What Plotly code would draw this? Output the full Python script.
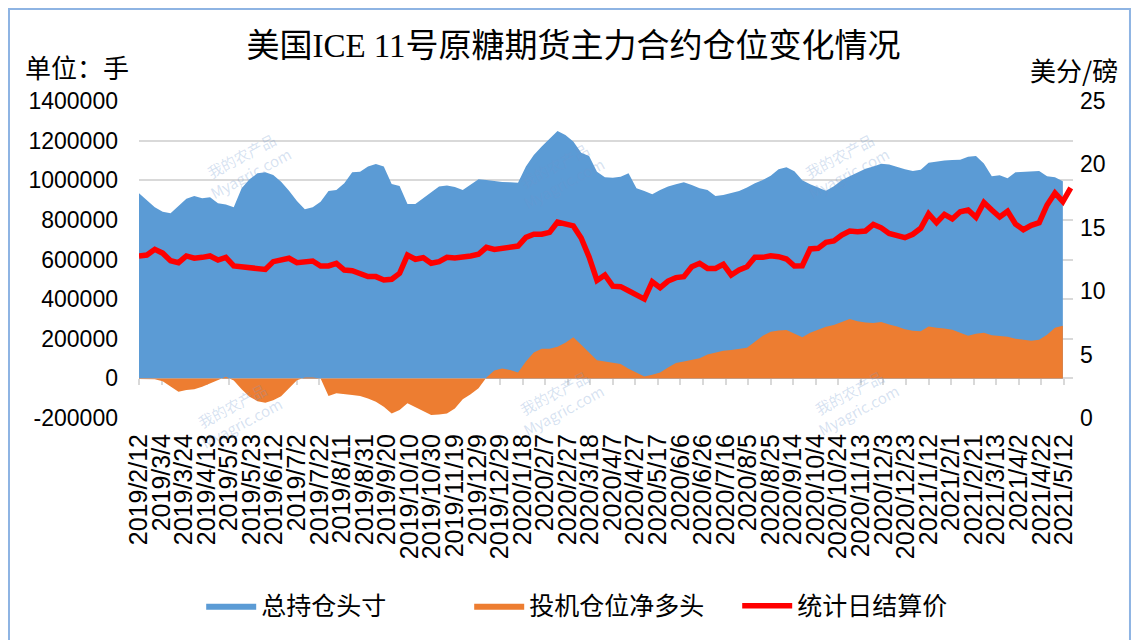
import pandas as pd
import plotly.graph_objects as go

# ---------------- data ----------------
start_date = "2019-02-12"   # weekly observations (Tuesdays)

total_oi = [
    935000, 900000, 864000, 841000, 833000, 870000, 907000, 920000, 909000, 914000,
    884000, 877000, 864000, 960000, 1005000, 1035000, 1040000, 1027000, 993000, 947000,
    895000, 853000, 864000, 892000, 946000, 951000, 985000, 1040000, 1043000, 1069000,
    1082000, 1069000, 981000, 971000, 880000, 880000, 909000, 937000, 968000, 973000,
    966000, 951000, 976000, 1005000, 1001000, 996000, 991000, 990000, 988000, 1069000,
    1128000, 1170000, 1212000, 1249000, 1229000, 1195000, 1139000, 1123000, 1043000, 1015000,
    1012000, 1018000, 1035000, 960000, 946000, 929000, 951000, 968000, 980000, 990000,
    976000, 960000, 951000, 920000, 926000, 937000, 946000, 963000, 985000, 1001000,
    1023000, 1055000, 1065000, 1045000, 1000000, 980000, 965000, 947000, 970000, 1000000,
    1020000, 1037000, 1058000, 1070000, 1083000, 1080000, 1068000, 1055000, 1047000, 1053000,
    1088000, 1095000, 1100000, 1102000, 1103000, 1118000, 1122000, 1085000, 1020000, 1025000,
    1010000, 1040000, 1042000, 1044000, 1047000, 1020000, 1015000, 995000,
]

spec_net_long = [
    -3000, -3000, -5000, -15000, -42000, -67000, -59000, -55000, -42000, -25000,
    -8000, 8000, -11000, -55000, -93000, -115000, -123000, -110000, -90000, -50000,
    -10000, 5000, 5000, 0, -89000, -75000, -78000, -84000, -89000, -101000,
    -118000, -143000, -177000, -160000, -126000, -146000, -168000, -185000, -182000, -177000,
    -152000, -105000, -80000, -50000, 5000, 40000, 50000, 42000, 30000, 85000,
    130000, 150000, 150000, 160000, 180000, 207000, 170000, 130000, 92000, 85000,
    77000, 72000, 48000, 28000, 10000, 18000, 30000, 55000, 78000, 85000,
    92000, 102000, 120000, 130000, 140000, 143000, 148000, 155000, 185000, 215000,
    235000, 242000, 244000, 225000, 208000, 230000, 245000, 260000, 270000, 285000,
    300000, 288000, 282000, 280000, 285000, 272000, 262000, 248000, 240000, 238000,
    262000, 255000, 252000, 245000, 230000, 215000, 225000, 230000, 218000, 215000,
    210000, 200000, 195000, 190000, 195000, 220000, 255000, 265000,
]

settle_price = [
    12.78, 12.85, 13.30, 13.00, 12.40, 12.25, 12.78, 12.60, 12.67, 12.78,
    12.46, 12.67, 11.99, 11.93, 11.85, 11.75, 11.72, 12.33, 12.46, 12.60,
    12.25, 12.33, 12.38, 11.99, 11.99, 12.20, 11.67, 11.62, 11.36, 11.15,
    11.15, 10.88, 10.94, 11.41, 12.85, 12.52, 12.64, 12.20, 12.33, 12.67,
    12.62, 12.67, 12.78, 12.91, 13.46, 13.30, 13.38, 13.38, 13.56, 14.25,
    14.49, 14.49, 14.64, 15.45, 15.35, 15.15, 14.20, 12.70, 10.85, 11.28,
    10.40, 10.36, 10.04, 9.75, 9.38, 10.75, 10.28, 10.80, 11.07, 11.15,
    11.93, 12.20, 11.80, 11.80, 12.12, 11.28, 11.67, 11.93, 12.67, 12.67,
    12.80, 12.72, 12.54, 11.99, 12.01, 13.33, 13.38, 13.86, 13.96, 14.43,
    14.75, 14.69, 14.75, 15.27, 15.00, 14.56, 14.43, 14.22, 14.49, 14.96,
    16.10, 15.40, 16.06, 15.70, 16.27, 16.40, 15.83, 17.00, 16.40, 15.85,
    16.30, 15.30, 14.85, 15.20, 15.40, 16.80, 17.75, 17.06, 18.15,
]

x_tick_labels = [
    "2019/2/12", "2019/3/4", "2019/3/24", "2019/4/13", "2019/5/3", "2019/5/23",
    "2019/6/12", "2019/7/2", "2019/7/22", "2019/8/11", "2019/8/31", "2019/9/20",
    "2019/10/10", "2019/10/30", "2019/11/19", "2019/12/9", "2019/12/29", "2020/1/18",
    "2020/2/7", "2020/2/27", "2020/3/18", "2020/4/7", "2020/4/27", "2020/5/17",
    "2020/6/6", "2020/6/26", "2020/7/16", "2020/8/5", "2020/8/25", "2020/9/14",
    "2020/10/4", "2020/10/24", "2020/11/13", "2020/12/3", "2020/12/23", "2021/1/12",
    "2021/2/1", "2021/2/21", "2021/3/13", "2021/4/2", "2021/4/22", "2021/5/12",
]

left_tick_vals = [-200000, 0, 200000, 400000, 600000, 800000, 1000000, 1200000, 1400000]
left_tick_text = ["-200000", "0", "200000", "400000", "600000", "800000", "1000000", "1200000", "1400000"]
right_tick_vals = [0, 5, 10, 15, 20, 25]

series_names = ["总持仓头寸", "投机仓位净多头", "统计日结算价"]
title_text = "美国ICE 11号原糖期货主力合约仓位变化情况"
left_unit = "单位：手"
right_unit = "美分/磅"

# ---------------- figure ----------------
dates = pd.date_range(start_date, periods=len(total_oi), freq="7D")
price_dates = pd.date_range(start_date, periods=len(settle_price), freq="7D")
tick_vals = pd.to_datetime(x_tick_labels, format="%Y/%m/%d")
x_range = ["2019-02-12", "2021-05-20"]

BLUE = "#5B9BD5"
ORANGE = "#ED7D31"
RED = "#FF0000"
GRID = "#D9D9D9"
SANS = "Liberation Sans, Arial, sans-serif"
CJK = "Noto Sans CJK SC, sans-serif"

fig = go.Figure()
fig.add_trace(go.Scatter(
    x=dates, y=total_oi, name=series_names[0], mode="lines",
    line=dict(width=0, color=BLUE), fill="tozeroy", fillcolor=BLUE,
))
fig.add_trace(go.Scatter(
    x=dates, y=spec_net_long, name=series_names[1], mode="lines",
    line=dict(width=0, color=ORANGE), fill="tozeroy", fillcolor=ORANGE,
))
fig.add_trace(go.Scatter(
    x=price_dates, y=settle_price, name=series_names[2], mode="lines",
    line=dict(width=5.5, color=RED), yaxis="y2",
))
# invisible trace that brings the zero-line axis (with its tick marks) to life
fig.add_trace(go.Scatter(
    x=[dates[0], dates[-1]], y=[None, None], xaxis="x2", yaxis="y",
    showlegend=False, hoverinfo="skip", mode="lines",
))

# the page body adds an 8px offset, so the figure is 8px smaller on each side
fig.update_layout(
    width=1131, height=632,
    margin=dict(l=131, r=66, t=93, b=222, autoexpand=False),
    paper_bgcolor="white", plot_bgcolor="white",
    title=dict(text=title_text, x=0.5, xanchor="center", y=0.941, yanchor="middle",
               font=dict(family="Liberation Serif, " + CJK, size=33, color="#000000")),
    xaxis=dict(
        type="date", range=x_range, tickmode="array", tickvals=tick_vals,
        ticktext=x_tick_labels, tickangle=-90, showgrid=False, showline=False,
        zeroline=False, ticks="", ticklabelstandoff=10, automargin=False,
        tickfont=dict(family=SANS, size=25, color="#000000"),
    ),
    xaxis2=dict(
        type="date", range=x_range, overlaying="x", anchor="free", position=0.125,
        tickmode="array", tickvals=tick_vals, showticklabels=False,
        showline=True, linecolor=GRID, linewidth=2, ticks="outside", ticklen=6,
        tickcolor=GRID, tickwidth=2, showgrid=False, zeroline=False, layer="below traces",
    ),
    yaxis=dict(
        range=[-200000, 1400000], tickmode="array", tickvals=left_tick_vals,
        ticktext=left_tick_text, showgrid=True, gridcolor=GRID, gridwidth=1.6,
        zeroline=False, showline=False, ticks="", ticklabelstandoff=20, automargin=False,
        tickfont=dict(family=SANS, size=23, color="#000000"),
    ),
    yaxis2=dict(
        range=[0, 25], tickmode="array", tickvals=right_tick_vals, overlaying="y",
        side="right", showgrid=False, zeroline=False, showline=False, ticks="",
        ticklabelstandoff=6, automargin=False,
        tickfont=dict(family=SANS, size=23, color="#000000"),
    ),
    legend=dict(
        orientation="h", x=0.497, xanchor="center", y=-0.593, yanchor="middle",
        font=dict(family=CJK, size=25, color="#000000"), bgcolor="rgba(0,0,0,0)",
        entrywidth=203, entrywidthmode="pixels", itemwidth=50,
    ),
    showlegend=True,
)

# axis unit labels
fig.add_annotation(text=left_unit, xref="paper", yref="paper", x=-0.124, y=1.11,
                   xanchor="left", yanchor="middle", showarrow=False,
                   font=dict(family=CJK, size=26, color="#000000"))
fig.add_annotation(text=right_unit, xref="paper", yref="paper", x=1.050, y=1.10,
                   xanchor="right", yanchor="middle", showarrow=False,
                   font=dict(family=CJK, size=26, color="#000000"))

# faint watermarks
wm_positions = [(0.06, 0.93), (0.45, 0.90), (0.81, 0.93), (0.05, -0.12), (0.45, -0.08), (0.82, -0.08)]
for wx, wy in wm_positions:
    fig.add_annotation(text="我的农产品<br>Myagric.com", xref="paper", yref="paper",
                       x=wx, y=wy, showarrow=False, textangle=-28,
                       font=dict(family=CJK, size=15, color="rgba(110,150,205,0.28)"))

# outer frame (bottom edge runs off the page, as in the reference)
fig.add_shape(type="rect", xref="paper", yref="paper",
              x0=-0.1392, x1=1.061, y0=-0.74, y1=1.290,
              line=dict(color="#8EB4E3", width=2), fillcolor="rgba(0,0,0,0)", layer="below")

fig.write_html("out.html")
